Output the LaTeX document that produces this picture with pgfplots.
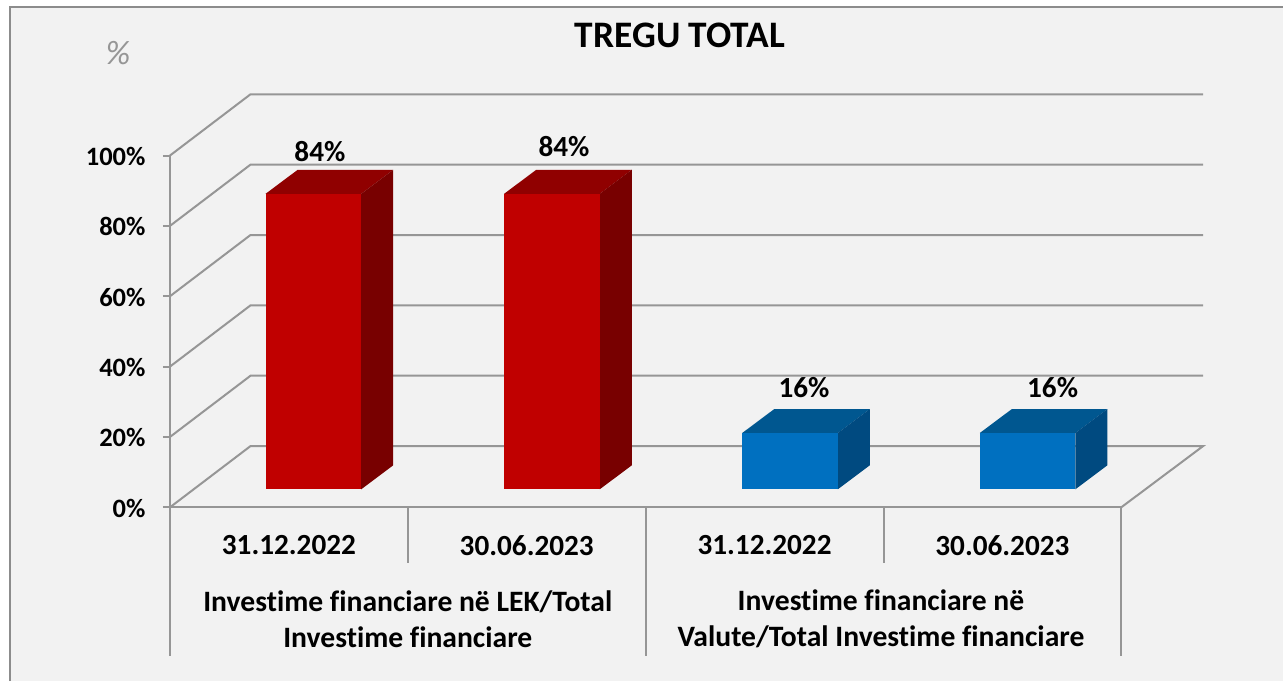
\documentclass[border=0pt]{standalone}
\usepackage{fontspec}
\setmainfont[Ligatures={NoCommon}]{Carlito}
\usepackage{pgfplots}
\pgfplotsset{compat=1.18}
\definecolor{panel}{HTML}{F2F2F2}
\definecolor{frame}{HTML}{8C8C8C}
\definecolor{gridc}{HTML}{969696}
\definecolor{redf}{HTML}{C00000}
\definecolor{redt}{HTML}{900000}
\definecolor{reds}{HTML}{780000}
\definecolor{bluef}{HTML}{0070C0}
\definecolor{bluet}{HTML}{005790}
\definecolor{blues}{HTML}{004A80}
\newcommand{\lab}{\fontsize{29.2}{36}\selectfont\bfseries}
\newcommand{\glab}{\fontsize{29.6}{36}\selectfont\bfseries}
\newcommand{\tlab}{\fontsize{26.5}{31}\selectfont\bfseries}
\begin{document}
\begin{tikzpicture}
    % page and panel, origin is the axis corner
    \useasboundingbox (-170pt,-173.7pt) rectangle (1113pt,507.3pt);
    \fill[white] (-170pt,-173.7pt) rectangle (1113pt,507.3pt);
    \fill[panel] (-160pt,-173.7pt) rectangle (1113pt,500.3pt);
    \draw[frame, line width=2pt] (-160pt,-173.7pt) -- (-160pt,500.3pt) -- (1113pt,500.3pt);
    \begin{axis}[
        at={(0pt,0pt)}, anchor=south west,
        scale only axis, width=951.3pt, height=351.8pt,
        xmin=0, xmax=4, ymin=0, ymax=100,
        clip=false,
        axis lines=left,
        axis line style={draw=gridc, line width=2pt, -},
        xtick={0.5,1.5,2.5,3.5},
        xticklabels={31.12.2022,30.06.2023,31.12.2022,30.06.2023},
        x tick style={draw=none},
        x tick label style={font=\lab, yshift=-18pt},
        ytick={0,20,40,60,80,100},
        yticklabel={\pgfmathprintnumber{\tick}\%},
        y tick label style={font=\tlab, xshift=-14pt, yshift=-1pt},
        y tick style={draw=gridc, line width=2pt},
        tick align=outside, major tick length=7pt,
        /pgf/number format/assume math mode=true,
        every axis plot/.append style={no markers, forget plot},
        nodes near coords style={font=\lab, text=black, anchor=center},
    ]
    % walls and floor
    \addplot[gridc, line width=2pt] coordinates {(0,0)(0.3385,17.4)(4.344,17.4)(4,0)};
    \addplot[gridc, line width=2pt] coordinates {(0,20)(0.3385,37.4)(4.344,37.4)};
    \addplot[gridc, line width=2pt] coordinates {(0,40)(0.3385,57.4)(4.344,57.4)};
    \addplot[gridc, line width=2pt] coordinates {(0,60)(0.3385,77.4)(4.344,77.4)};
    \addplot[gridc, line width=2pt] coordinates {(0,80)(0.3385,97.4)(4.344,97.4)};
    \addplot[gridc, line width=2pt] coordinates {(0,100)(0.3385,117.4)(4.344,117.4)};
    % bars, raised 18pt off the front edge
    \addplot[fill=redt, draw=none, yshift=18pt] coordinates {(0.402,84)(0.804,84)(0.9386,90.82)(0.537,90.82)} -- cycle;
    \addplot[fill=reds, draw=none, yshift=18pt] coordinates {(0.804,0)(0.9386,6.82)(0.9386,90.82)(0.804,84)} -- cycle;
    \addplot[ybar, bar width=95.7pt, bar shift=0pt, fill=redf, draw=none, yshift=18pt,
        nodes near coords={\pgfmathprintnumber{\pgfplotspointmeta}\%},
        nodes near coords style={xshift=6.5pt, yshift=42pt}] coordinates {(0.603,84)};
    \addplot[fill=redt, draw=none, yshift=18pt] coordinates {(1.405,84)(1.807,84)(1.9416,90.82)(1.54,90.82)} -- cycle;
    \addplot[fill=reds, draw=none, yshift=18pt] coordinates {(1.807,0)(1.9416,6.82)(1.9416,90.82)(1.807,84)} -- cycle;
    \addplot[ybar, bar width=95.7pt, bar shift=0pt, fill=redf, draw=none, yshift=18pt,
        nodes near coords={\pgfmathprintnumber{\pgfplotspointmeta}\%},
        nodes near coords style={xshift=12pt, yshift=47pt}] coordinates {(1.606,84)};
    \addplot[fill=bluet, draw=none, yshift=18pt] coordinates {(2.406,16)(2.808,16)(2.9426,22.82)(2.541,22.82)} -- cycle;
    \addplot[fill=blues, draw=none, yshift=18pt] coordinates {(2.808,0)(2.9426,6.82)(2.9426,22.82)(2.808,16)} -- cycle;
    \addplot[ybar, bar width=95.7pt, bar shift=0pt, fill=bluef, draw=none, yshift=18pt,
        nodes near coords={\pgfmathprintnumber{\pgfplotspointmeta}\%},
        nodes near coords style={xshift=14pt, yshift=45pt}] coordinates {(2.607,16)};
    \addplot[fill=bluet, draw=none, yshift=18pt] coordinates {(3.405,16)(3.807,16)(3.9416,22.82)(3.54,22.82)} -- cycle;
    \addplot[fill=blues, draw=none, yshift=18pt] coordinates {(3.807,0)(3.9416,6.82)(3.9416,22.82)(3.807,16)} -- cycle;
    \addplot[ybar, bar width=95.7pt, bar shift=0pt, fill=bluef, draw=none, yshift=18pt,
        nodes near coords={\pgfmathprintnumber{\pgfplotspointmeta}\%},
        nodes near coords style={xshift=25pt, yshift=45pt}] coordinates {(3.606,16)};
    \end{axis}
    % category separators below the axis
    \draw[gridc, line width=2pt] (0pt,0pt) -- (0pt,-149pt);
    \draw[gridc, line width=2pt] (475.65pt,0pt) -- (475.65pt,-149pt);
    \draw[gridc, line width=2pt] (951.3pt,0pt) -- (951.3pt,-149pt);
    \draw[gridc, line width=2pt] (237.8pt,0pt) -- (237.8pt,-56pt);
    \draw[gridc, line width=2pt] (713.5pt,0pt) -- (713.5pt,-56pt);
    % group names
    \node[font=\glab, align=center, inner sep=0pt, anchor=center] at (237.8pt,-111.7pt)
        {Investime financiare në LEK/Total\\Investime financiare};
    \node[font=\glab, align=center, inner sep=0pt, anchor=center] at (711pt,-111.7pt)
        {Investime financiare në\\Valute/Total Investime financiare};
    \node[font=\fontsize{37.4}{44}\selectfont\bfseries, inner sep=0pt] at (510pt,472.3pt) {TREGU TOTAL};
    \node[font=\fontsize{34}{40}\selectfont\itshape, text=gridc, inner sep=0pt] at (-52pt,454.3pt) {\%};
\end{tikzpicture}
\end{document}
